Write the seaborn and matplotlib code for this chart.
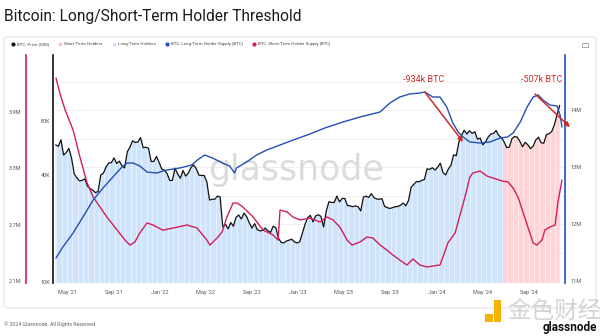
import numpy as np
import pandas as pd
import matplotlib
matplotlib.use("Agg")
import matplotlib.pyplot as plt
import matplotlib.transforms as mtransforms
from matplotlib.patches import FancyBboxPatch, Rectangle
from matplotlib.lines import Line2D
import seaborn as sns

sns.set_theme(style="white")
plt.rcParams["font.family"] = ["Roboto", "Noto Sans CJK SC", "DejaVu Sans"]

# ---- data -----------------------------------------------------------------
# weekly BTC close (USD), starting 2021-04-01
price_start = "2021-04-01"
btc_price_usd = [
    # 2021
    59000, 58000, 63000, 51700, 53500, 56400, 49700, 40600, 38500, 37000,
    37300, 38000, 34600, 33500, 32800, 31800, 32300, 40000, 40900, 44400,
    46700, 46900, 49900, 46400, 47800, 44900, 43800, 53900, 57400, 62200,
    60900, 61300, 64900, 56900, 57300, 56500, 47600, 47600, 50800, 47100,
    # 2022
    43100, 42600, 40700, 37200, 37300, 43600, 40500, 38300, 42400, 39400,
    40900, 44000, 45500, 43400, 39900, 39700, 39700, 36500, 28900, 29200,
    29200, 30400, 30100, 20400, 21100, 19900, 21600, 20600, 23100, 23800,
    22600, 24400, 23300, 21500, 20100, 21300, 19700, 19400, 19500, 20100,
    19400, 19000, 20600, 20200, 17600, 16700, 16600, 17000, 17200, 17400,
    16800, 16600,
    # 2023
    16800, 18800, 21100, 23000, 23700, 21800, 23500, 23900, 23400, 20400,
    25000, 28300, 28000, 28000, 30400, 28200, 29500, 29500, 26900, 26800,
    26500, 26800, 26500, 25100, 30000, 30400, 29900, 31400, 29800, 29300,
    29200, 29400, 26600, 26200, 25900, 26200, 26500, 26600, 27000, 27800,
    26800, 28700, 34100, 35400, 36700, 36600, 37300, 37700, 43300, 43000,
    43900, 42600,
    # 2024
    44200, 46600, 41300, 40000, 43100, 45300, 51900, 51300, 61200, 66900,
    71400, 67900, 70800, 68500, 70000, 63500, 64500, 59100, 61200, 65200,
    67900, 68400, 71100, 66700, 64900, 61600, 57000, 57300, 64000, 65800,
    65300, 61700, 57600, 61000, 59100, 56200, 58100, 62900, 65200, 60700,
    60300, 67400, 68200, 70200, 76500, 87300, 98400,
]

# short-term holder supply (million BTC)
sth_dates = [
    "2021-04-02", "2021-04-12", "2021-04-26", "2021-05-17", "2021-06-04",
    "2021-06-23", "2021-07-09", "2021-07-27", "2021-08-14", "2021-09-10",
    "2021-10-01", "2021-10-14", "2021-10-27", "2021-11-09", "2021-11-28",
    "2021-12-14", "2022-01-09", "2022-02-05", "2022-03-14", "2022-04-09",
    "2022-05-05", "2022-05-13", "2022-06-01", "2022-06-14", "2022-06-27",
    "2022-07-13", "2022-07-24", "2022-08-08", "2022-09-04", "2022-09-30",
    "2022-10-27", "2022-11-09", "2022-11-14", "2022-12-03", "2022-12-18",
    "2023-01-06", "2023-02-01", "2023-02-27", "2023-03-18", "2023-04-03",
    "2023-04-21", "2023-05-10", "2023-05-23", "2023-06-13", "2023-07-01",
    "2023-07-17", "2023-08-05", "2023-08-23", "2023-09-08", "2023-09-26",
    "2023-10-15", "2023-10-31", "2023-11-18", "2023-12-07", "2023-12-23",
    "2024-01-10", "2024-01-18", "2024-01-31", "2024-02-19", "2024-03-03",
    "2024-03-16", "2024-03-29", "2024-04-06", "2024-04-25", "2024-05-13",
    "2024-05-29", "2024-06-22", "2024-07-08", "2024-07-21", "2024-08-03",
    "2024-08-16", "2024-08-29", "2024-09-12", "2024-09-22", "2024-10-05",
    "2024-10-13", "2024-10-26", "2024-11-09", "2024-11-16", "2024-11-27",
]
sth_supply_m = [
    4.256, 4.096, 3.916, 3.704, 3.417,
    3.141, 2.992, 2.886, 2.780, 2.642,
    2.535, 2.482, 2.514, 2.610, 2.716,
    2.695, 2.640, 2.663, 2.695, 2.663,
    2.535, 2.482, 2.557, 2.620, 2.780,
    2.928, 2.928, 2.886, 2.780, 2.642,
    2.588, 2.535, 2.854, 2.833, 2.780,
    2.748, 2.769, 2.727, 2.780, 2.748,
    2.673, 2.535, 2.482, 2.514, 2.567,
    2.557, 2.482, 2.429, 2.376, 2.323,
    2.270, 2.334, 2.270, 2.249, 2.260,
    2.270, 2.355, 2.504, 2.610, 2.800,
    2.992, 3.204, 3.247, 3.268, 3.215,
    3.194, 3.162, 3.151, 3.088, 2.992,
    2.833, 2.673, 2.504, 2.482, 2.535,
    2.642, 2.673, 2.695, 2.928, 3.172,
]

# long-term holder supply (million BTC)
lth_dates = [
    "2021-04-02", "2021-04-20", "2021-05-17", "2021-06-12", "2021-07-09",
    "2021-08-04", "2021-08-30", "2021-09-23", "2021-10-06", "2021-10-22",
    "2021-11-09", "2021-11-28", "2021-12-24", "2022-01-19", "2022-02-22",
    "2022-03-26", "2022-04-10", "2022-04-29", "2022-05-20", "2022-06-15",
    "2022-07-04", "2022-07-17", "2022-07-22", "2022-08-18", "2022-09-13",
    "2022-10-10", "2022-11-14", "2022-12-26", "2023-02-01", "2023-03-12",
    "2023-04-29", "2023-06-13", "2023-07-15", "2023-08-05", "2023-08-31",
    "2023-09-26", "2023-10-22", "2023-11-18", "2023-12-01", "2023-12-22",
    "2024-01-10", "2024-01-28", "2024-02-13", "2024-02-27", "2024-03-11",
    "2024-03-29", "2024-04-25", "2024-05-21", "2024-06-17", "2024-07-06",
    "2024-07-21", "2024-08-09", "2024-08-27", "2024-09-12", "2024-09-25",
    "2024-10-08", "2024-10-26", "2024-11-14", "2024-11-22", "2024-11-27",
]
lth_supply_m = [
    11.404, 11.596, 11.842, 12.123, 12.421,
    12.632, 12.825, 13.000, 13.070, 13.070,
    13.018, 12.912, 12.895, 12.947, 12.982,
    13.035, 13.123, 13.210, 13.158, 13.070,
    13.018, 12.895, 12.982, 13.088, 13.210,
    13.298, 13.386, 13.491, 13.579, 13.684,
    13.789, 13.877, 13.930, 13.965, 14.123,
    14.228, 14.281, 14.298, 14.316, 14.228,
    14.228, 14.053, 13.772, 13.614, 13.526,
    13.439, 13.421, 13.439, 13.509, 13.526,
    13.596, 13.789, 14.053, 14.228, 14.263,
    14.175, 14.088, 14.070, 13.912, 13.702,
]

# date from which short-term holders dominate the shading
regime_switch = "2024-06-27"

x_tick_dates = ["2021-05-01", "2021-09-01", "2022-01-01", "2022-05-01",
                "2022-09-01", "2023-01-01", "2023-05-01", "2023-09-01",
                "2024-01-01", "2024-05-01", "2024-09-01"]
x_tick_labels = ["May '21", "Sep '21", "Jan '22", "May '22", "Sep '22",
                 "Jan '23", "May '23", "Sep '23", "Jan '24", "May '24",
                 "Sep '24"]
price_ticks = [10000, 40000, 80000]
price_tick_labels = ["10K", "40K", "80K"]
sth_ticks = [2.1, 2.7, 3.3, 3.9]
sth_tick_labels = ["2.1M", "2.7M", "3.3M", "3.9M"]
lth_ticks = [11, 12, 13, 14]
lth_tick_labels = ["11M", "12M", "13M", "14M"]

# ---- styling --------------------------------------------------------------
C_PRICE = "#111111"
C_LTH = "#2250b4"
C_STH = "#d21f5b"
C_FILL_LTH = "#cfe3fb"
C_FILL_STH = "#fdd4d8"
C_ARROW = "#d02a2a"
C_TICK = "#555555"

W, H = 600, 336
DPI = 100
fig = plt.figure(figsize=(W / DPI, H / DPI), dpi=DPI)
fig.patch.set_facecolor("white")


def fx(px):
    return px / W


def fy(py):
    return 1 - py / H


def pt(px):
    return px * 72 / DPI


# panel card (kept behind the axes)
card = FancyBboxPatch((fx(4), fy(308)), fx(592), 271 / H,
                      boxstyle="round,pad=0,rounding_size=0.008",
                      transform=fig.transFigure, fc="white", ec="#e4e4e4",
                      lw=0.8, zorder=-5)
fig.patches.append(card)

ax = fig.add_axes([fx(53), fy(283), 512 / W, 228 / H])
ax.patch.set_alpha(0)

price_dates = pd.date_range(price_start, periods=len(btc_price_usd), freq="7D")
price = np.array(btc_price_usd, dtype=float)
switch = pd.Timestamp(regime_switch)

ax.set_yscale("log")
ax.set_ylim(9870, 189000)
ax.set_xlim(pd.Timestamp("2021-03-25"), pd.Timestamp("2024-12-05"))

# ---- secondary axes -------------------------------------------------------
ax_sth = ax.twinx()
ax_lth = ax.twinx()
ax_sth.set_ylim(2.079, 4.50)
ax_lth.set_ylim(10.965, 14.965)

# horizontal grid following the LTH supply scale
grid_tf = mtransforms.blended_transform_factory(ax.transAxes, ax_lth.transData)
for lvl in np.arange(11.5, 15.0, 0.5):
    ax.plot([0, 1], [lvl, lvl], transform=grid_tf, color="#ededed", lw=0.6,
            zorder=0.3)

# watermark
ax.text(fx(208), fy(180), "glassnode", transform=fig.transFigure,
        fontsize=25, color="#dcdcdc", family="DejaVu Sans", va="baseline",
        ha="left", zorder=0.5)

# shaded area under price, coloured by dominant cohort
fb = ax.fill_between(price_dates, price, 1, where=price_dates <= switch,
                     color=C_FILL_LTH, lw=0, zorder=1)
fp = ax.fill_between(price_dates, price, 1, where=price_dates >= switch,
                     color=C_FILL_STH, lw=0, zorder=1)
stripe_dates = pd.date_range("2021-04-03", "2024-12-01", freq="14D")
for poly in (fb, fp):
    st = ax.vlines(stripe_dates, 1, 1e7, colors="white", lw=0.6, alpha=0.6,
                   zorder=1.5)
    st.set_clip_path(poly.get_paths()[0], poly.get_transform())

sns.lineplot(x=price_dates, y=price, ax=ax, color=C_PRICE, lw=0.9, zorder=3)
sns.lineplot(x=pd.to_datetime(sth_dates), y=sth_supply_m, ax=ax_sth,
             color=C_STH, lw=1.0)
sns.lineplot(x=pd.to_datetime(lth_dates), y=lth_supply_m, ax=ax_lth,
             color=C_LTH, lw=1.0)

# ---- axes cosmetics -------------------------------------------------------
for a in (ax, ax_sth, ax_lth):
    a.set_xlabel("")
    a.set_ylabel("")
    for s in a.spines.values():
        s.set_visible(False)
    a.grid(False)
    a.tick_params(length=0, labelsize=4, labelcolor=C_TICK)

ax.spines["left"].set_visible(True)
ax.spines["left"].set_color(C_PRICE)
ax.spines["left"].set_linewidth(1.2)
ax.set_yticks(price_ticks)
ax.set_yticklabels(price_tick_labels)
ax.yaxis.set_minor_locator(matplotlib.ticker.NullLocator())
ax.tick_params(axis="y", pad=pt(3))
ax.set_xticks(pd.to_datetime(x_tick_dates))
ax.set_xticklabels(x_tick_labels)
ax.tick_params(axis="x", pad=pt(7))

ax_sth.yaxis.tick_left()
ax_sth.spines["left"].set_visible(True)
ax_sth.spines["left"].set_position(("outward", pt(27)))
ax_sth.spines["left"].set_color(C_STH)
ax_sth.spines["left"].set_linewidth(1.2)
ax_sth.set_yticks(sth_ticks)
ax_sth.set_yticklabels(sth_tick_labels)
ax_sth.tick_params(axis="y", pad=pt(5))

ax_lth.spines["right"].set_visible(True)
ax_lth.spines["right"].set_color(C_LTH)
ax_lth.spines["right"].set_linewidth(1.2)
ax_lth.set_yticks(lth_ticks)
ax_lth.set_yticklabels(lth_tick_labels)
ax_lth.tick_params(axis="y", pad=pt(5))

# ---- annotations ----------------------------------------------------------
arrow_kw = dict(arrowstyle="-|>", color=C_ARROW, lw=1.1, mutation_scale=7,
                shrinkA=0, shrinkB=0)
ax_lth.annotate("", xy=(pd.Timestamp("2024-03-11"), 13.44),
                xytext=(pd.Timestamp("2023-12-01"), 14.316),
                arrowprops=arrow_kw, annotation_clip=False, zorder=6)
ax_lth.annotate("", xy=(pd.Timestamp("2024-12-18"), 13.70),
                xytext=(pd.Timestamp("2024-09-17"), 14.28),
                arrowprops=arrow_kw, annotation_clip=False, zorder=6)
ax_lth.text(pd.Timestamp("2023-11-28"), 14.45, "-934k BTC", color=C_ARROW,
            fontsize=6.5, ha="center", va="bottom", zorder=6)
ax_lth.text(pd.Timestamp("2024-10-05"), 14.45, "-507k BTC", color=C_ARROW,
            fontsize=6.5, ha="center", va="bottom", zorder=6)

# ---- title, legend, footer ------------------------------------------------
fig.text(fx(4), fy(16), "Bitcoin: Long/Short-Term Holder Threshold",
         fontsize=11.2, color="#1b1b1b", va="center", ha="left")

legend_items = [
    (13, "o", C_PRICE, "BTC: Price [USD]"),
    (60, "s", "#f7c3c8", "Short-Term Holders"),
    (114, "s", "#c9def8", "Long-Term Holders"),
    (167, "o", C_LTH, "BTC: Long-Term Holder Supply [BTC]"),
    (254, "o", C_STH, "BTC: Short-Term Holder Supply [BTC]"),
]
for px, mk, col, lab in legend_items:
    fig.add_artist(Line2D([fx(px)], [fy(44)], marker=mk, color=col,
                          markersize=2.0, lw=0, transform=fig.transFigure))
    fig.text(fx(px + 4), fy(44), lab, fontsize=3.2, color="#444444",
             va="center", ha="left")

# export icon
fig.patches.append(Rectangle((fx(582), fy(46.5)), fx(6), 4 / H, fill=False,
                             ec="#888888", lw=0.5, transform=fig.transFigure))

fig.text(fx(4), fy(324), "\u00a9 2024 Glassnode. All Rights Reserved.",
         fontsize=3.8, color="#666666", va="center", ha="left")

# corner marks
fig.patches.append(Rectangle((fx(485), fy(322)), fx(8), 8 / H,
                             fc="#f5b300", ec="none",
                             transform=fig.transFigure))
fig.patches.append(Rectangle((fx(494), fy(322)), fx(7), 22 / H,
                             fc="#f5b300", ec="none",
                             transform=fig.transFigure))
fig.text(fx(507), fy(311), "金色财经", fontsize=17, color="#d4d4d4",
         va="center", ha="left", family=["Noto Sans CJK SC"])
fig.text(fx(597), fy(328), "glassnode", fontsize=8.5, color="#111111",
         va="center", ha="right", fontweight="bold")

fig.savefig("out.png", dpi=DPI, facecolor="white")
